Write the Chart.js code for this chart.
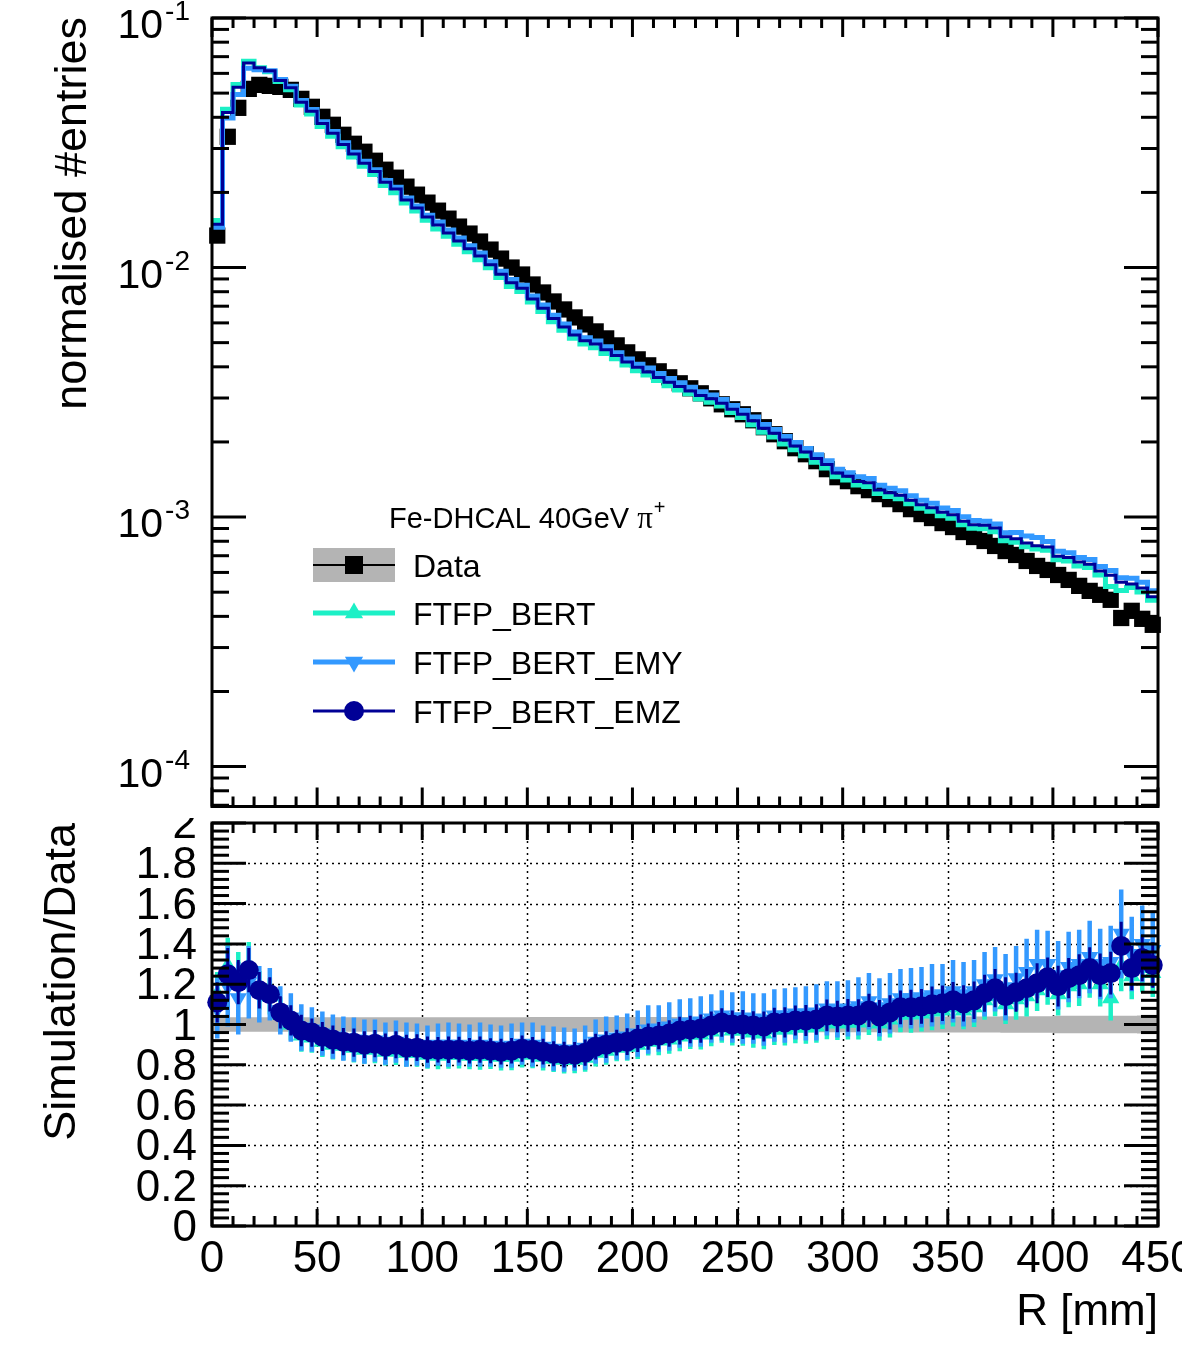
<!DOCTYPE html>
<html><head><meta charset="utf-8">
<script src="https://cdn.jsdelivr.net/npm/chart.js@4.4.0/dist/chart.umd.min.js"></script>
<style>
html,body{margin:0;padding:0;background:#fff;}
#wrap{position:relative;width:1182px;height:1363px;overflow:hidden;background:#fff;}
#c1{position:absolute;left:0;top:0;z-index:2;background:#fff;}
#c2{position:absolute;left:0;top:812px;z-index:1;background:#fff;}
</style></head><body>
<div id="wrap">
<canvas id="c1" width="1182" height="818"></canvas>
<canvas id="c2" width="1182" height="551"></canvas>
</div>
<script>
// ---------------- data ----------------
const binEdges = Array.from({length: 91}, (_, i) => i * 5);           // R bins [mm]
const xTickLabels = ['0','50','100','150','200','250','300','350','400','450'];
const ratioTickLabels = ['0','0.2','0.4','0.6','0.8','1','1.2','1.4','1.6','1.8','2'];
const logTickExps = [-1, -2, -3, -4];

const dataNorm = [0.01343,0.03342,0.04365,0.05200,0.05395,0.05346,0.05297,0.05152,0.04742,0.04406,
0.04018,0.03733,0.03404,0.03133,0.02911,0.02679,0.02466,0.02291,0.02109,0.01959,
0.01820,0.01690,0.01570,0.01459,0.01368,0.01271,0.01180,0.01086,0.01000,0.009376,
0.008551,0.007943,0.007311,0.006792,0.006310,0.005916,0.005546,0.005200,0.004875,0.004571,
0.004285,0.004055,0.003837,0.003631,0.003436,0.003281,0.003133,0.002992,0.002831,0.002704,
0.002582,0.002443,0.002291,0.002148,0.002014,0.001888,0.001786,0.001675,0.001556,0.001445,
0.001393,0.001330,0.001282,0.001236,0.001180,0.001127,0.001076,0.001028,0.000991,0.000946,
0.000912,0.000871,0.000832,0.000802,0.000766,0.000731,0.000705,0.000667,0.000637,0.000614,
0.000586,0.000560,0.000530,0.000506,0.000488,0.000466,0.000394,0.000421,0.000391,0.000370];

const ftfpBertEMZ = [0.01491,0.04178,0.05282,0.06604,0.06312,0.06148,0.05615,0.05255,0.04600,0.04230,
0.03777,0.03453,0.03115,0.02851,0.02620,0.02424,0.02195,0.02062,0.01866,0.01734,
0.01593,0.01479,0.01374,0.01277,0.01190,0.01112,0.01027,0.009394,0.008700,0.008251,
0.007482,0.006871,0.006251,0.005773,0.005364,0.005088,0.004936,0.004680,0.004436,0.004182,
0.003985,0.003812,0.003626,0.003468,0.003333,0.003199,0.003070,0.002977,0.002859,0.002704,
0.002582,0.002431,0.002268,0.002169,0.002034,0.001926,0.001822,0.001717,0.001626,0.001503,
0.001456,0.001390,0.001372,0.001285,0.001251,0.001223,0.001167,0.001121,0.001090,0.001045,
0.001021,0.0009625,0.0009318,0.0009263,0.0009039,0.0008333,0.0008178,0.0007871,0.0007676,0.0007583,
0.0006973,0.0006888,0.0006599,0.0006477,0.0006076,0.0005848,0.0005477,0.0005389,0.0005200,0.0004792];

const ftfpBert = [0.01544,0.04311,0.05413,0.06708,0.06312,0.06094,0.05562,0.05152,0.04481,0.04120,
0.03676,0.03360,0.03047,0.02773,0.02547,0.02358,0.02133,0.01993,0.01814,0.01685,
0.01547,0.01428,0.01335,0.01240,0.01156,0.01074,0.009971,0.009122,0.008400,0.008016,
0.007268,0.006672,0.006068,0.005603,0.005206,0.004940,0.004770,0.004524,0.004314,0.004068,
0.003857,0.003710,0.003530,0.003359,0.003230,0.003117,0.002976,0.002887,0.002789,0.002623,
0.002505,0.002345,0.002188,0.002094,0.001964,0.001860,0.001759,0.001658,0.001572,0.001452,
0.001407,0.001343,0.001327,0.001242,0.001210,0.001183,0.001130,0.001085,0.001055,0.001012,
0.0009895,0.0009320,0.0009027,0.0008982,0.0008732,0.0008041,0.0007931,0.0007604,0.0007453,0.0007368,
0.0006739,0.0006664,0.0006360,0.0006274,0.0005856,0.0005266,0.0005083,0.0005220,0.0005005,0.0004644];

const ftfpBertEMY = [0.01450,0.03977,0.04932,0.06292,0.06204,0.06148,0.05668,0.05332,0.04671,0.04296,
0.03837,0.03509,0.03166,0.02898,0.02664,0.02465,0.02232,0.02096,0.01898,0.01763,
0.01620,0.01521,0.01413,0.01313,0.01224,0.01144,0.01056,0.009665,0.008950,0.008485,
0.007696,0.007069,0.006434,0.005943,0.005521,0.005236,0.005075,0.004810,0.004558,0.004297,
0.004092,0.003954,0.003760,0.003595,0.003453,0.003314,0.003180,0.003082,0.002958,0.002799,
0.002672,0.002516,0.002348,0.002245,0.002105,0.001992,0.001884,0.001776,0.001680,0.001553,
0.001504,0.001450,0.001429,0.001341,0.001304,0.001274,0.001216,0.001167,0.001135,0.001088,
0.001062,0.001002,0.0009693,0.0009624,0.0009384,0.0008662,0.0008672,0.0008404,0.0008281,0.0007982,
0.0007296,0.0007196,0.0006890,0.0006755,0.0006344,0.0006105,0.0005713,0.0005684,0.0005474,0.0005069];

const ratioEMZ = [1.11,1.25,1.21,1.27,1.17,1.15,1.06,1.02,0.97,0.96,
0.94,0.925,0.915,0.91,0.90,0.905,0.89,0.90,0.885,0.885,
0.875,0.875,0.875,0.875,0.87,0.875,0.87,0.865,0.87,0.88,
0.875,0.865,0.855,0.85,0.85,0.86,0.89,0.90,0.91,0.915,
0.93,0.94,0.945,0.955,0.97,0.975,0.98,0.995,1.01,1.00,
1.00,0.995,0.99,1.01,1.01,1.02,1.02,1.025,1.045,1.04,
1.045,1.045,1.07,1.04,1.06,1.085,1.085,1.09,1.10,1.105,
1.12,1.105,1.12,1.155,1.18,1.14,1.16,1.18,1.205,1.235,
1.19,1.23,1.245,1.28,1.245,1.255,1.39,1.28,1.33,1.295];

const ratioBert = [1.15,1.29,1.24,1.29,1.17,1.14,1.05,1.00,0.945,0.935,
0.915,0.90,0.895,0.885,0.875,0.88,0.865,0.87,0.86,0.86,
0.85,0.845,0.85,0.85,0.845,0.845,0.845,0.84,0.84,0.855,
0.85,0.84,0.83,0.825,0.825,0.835,0.86,0.87,0.885,0.89,
0.90,0.915,0.92,0.925,0.94,0.95,0.95,0.965,0.985,0.97,
0.97,0.96,0.955,0.975,0.975,0.985,0.985,0.99,1.01,1.005,
1.01,1.01,1.035,1.005,1.025,1.05,1.05,1.055,1.065,1.07,
1.085,1.07,1.085,1.12,1.14,1.10,1.125,1.14,1.17,1.20,
1.15,1.19,1.20,1.24,1.20,1.13,1.29,1.24,1.28,1.255];

const ratioEMY = [1.08,1.19,1.13,1.21,1.15,1.15,1.07,1.035,0.985,0.975,
0.955,0.94,0.93,0.925,0.915,0.92,0.905,0.915,0.90,0.90,
0.89,0.90,0.90,0.90,0.895,0.90,0.895,0.89,0.895,0.905,
0.90,0.89,0.88,0.875,0.875,0.885,0.915,0.925,0.935,0.94,
0.955,0.975,0.98,0.99,1.005,1.01,1.015,1.03,1.045,1.035,
1.035,1.03,1.025,1.045,1.045,1.055,1.055,1.06,1.08,1.075,
1.08,1.09,1.115,1.085,1.105,1.13,1.13,1.135,1.145,1.15,
1.165,1.15,1.165,1.20,1.225,1.185,1.23,1.26,1.30,1.30,
1.245,1.285,1.30,1.335,1.30,1.31,1.45,1.35,1.40,1.37];

const errEMZ = [0.10,0.13,0.11,0.11,0.09,0.085,0.08,0.075,0.078,0.07,
0.072,0.07,0.068,0.07,0.066,0.068,0.065,0.067,0.064,0.066,
0.065,0.063,0.066,0.064,0.063,0.065,0.062,0.064,0.063,0.065,
0.063,0.064,0.062,0.064,0.063,0.065,0.064,0.066,0.064,0.066,
0.067,0.065,0.068,0.066,0.069,0.068,0.07,0.069,0.071,0.07,
0.072,0.071,0.074,0.073,0.075,0.074,0.077,0.076,0.079,0.078,
0.081,0.08,0.083,0.082,0.085,0.084,0.087,0.086,0.089,0.088,
0.091,0.09,0.093,0.092,0.095,0.094,0.097,0.096,0.099,0.098,
0.101,0.10,0.104,0.103,0.107,0.106,0.12,0.11,0.115,0.113];

const errBert = [0.11,0.14,0.12,0.12,0.095,0.09,0.085,0.08,0.08,0.075,
0.076,0.074,0.072,0.074,0.07,0.072,0.069,0.071,0.068,0.07,
0.069,0.067,0.07,0.068,0.067,0.069,0.066,0.068,0.067,0.069,
0.067,0.068,0.066,0.068,0.067,0.069,0.068,0.07,0.068,0.07,
0.071,0.069,0.072,0.07,0.073,0.072,0.074,0.073,0.075,0.074,
0.076,0.075,0.078,0.077,0.079,0.078,0.081,0.08,0.083,0.082,
0.085,0.084,0.087,0.086,0.089,0.088,0.091,0.09,0.093,0.092,
0.095,0.094,0.097,0.096,0.099,0.098,0.101,0.10,0.103,0.102,
0.105,0.104,0.108,0.107,0.111,0.11,0.125,0.115,0.12,0.118];

const errEMY = [0.15,0.20,0.18,0.18,0.14,0.13,0.12,0.12,0.115,0.11,
0.11,0.11,0.11,0.11,0.11,0.105,0.105,0.105,0.11,0.105,
0.105,0.105,0.11,0.105,0.105,0.11,0.105,0.105,0.11,0.105,
0.11,0.105,0.11,0.11,0.105,0.11,0.11,0.115,0.11,0.115,
0.115,0.12,0.115,0.12,0.12,0.12,0.125,0.12,0.125,0.125,
0.13,0.125,0.13,0.13,0.135,0.13,0.135,0.14,0.135,0.14,
0.14,0.145,0.14,0.145,0.15,0.145,0.15,0.15,0.155,0.15,
0.155,0.16,0.155,0.16,0.16,0.165,0.16,0.165,0.17,0.165,
0.17,0.175,0.17,0.18,0.175,0.18,0.22,0.185,0.19,0.185];

const dataBand = [0.036,0.036,0.036,0.036,0.036,0.036,0.036,0.036,0.036,0.036,
0.036,0.036,0.036,0.036,0.036,0.036,0.036,0.036,0.036,0.036,
0.036,0.036,0.036,0.036,0.036,0.036,0.036,0.036,0.036,0.036,
0.037,0.037,0.037,0.037,0.037,0.037,0.037,0.037,0.037,0.037,
0.037,0.037,0.037,0.037,0.037,0.037,0.037,0.037,0.037,0.037,
0.038,0.038,0.038,0.038,0.038,0.038,0.038,0.038,0.038,0.038,
0.038,0.038,0.038,0.038,0.038,0.040,0.040,0.040,0.040,0.040,
0.040,0.040,0.040,0.040,0.040,0.041,0.041,0.041,0.041,0.041,
0.043,0.043,0.043,0.043,0.043,0.044,0.044,0.044,0.045,0.045];

const legendLabels = ['Data','FTFP_BERT','FTFP_BERT_EMY','FTFP_BERT_EMZ'];
const legendHeader = 'Fe-DHCAL 40GeV ';
const legendParticle = '\u03c0';

// ---------------- styles ----------------
const CYAN = '#1cf0c6', BLUE = '#3399ff', NAVY = '#000096', GREY = '#b4b4b4';
const FONT = "'Liberation Sans', Arial, Helvetica, sans-serif";
const SERIF = "'Liberation Serif', 'DejaVu Serif', serif";

// ---------------- helpers ----------------
const centers = binEdges.slice(0, -1).map((e, i) => (e + binEdges[i + 1]) / 2);
function histPts(vals) {
  const pts = [];
  vals.forEach((v, i) => { pts.push({x: binEdges[i], y: v}); pts.push({x: binEdges[i + 1], y: v}); });
  return pts;
}
function markerPts(vals) { return vals.map((v, i) => ({x: centers[i], y: v})); }
function errSegs(vals, errs) {
  const pts = [];
  vals.forEach((v, i) => {
    pts.push({x: centers[i], y: v - errs[i]});
    pts.push({x: centers[i], y: v + errs[i]});
    pts.push({x: centers[i], y: null});
  });
  return pts;
}
function line(ctx, x1, y1, x2, y2) { ctx.beginPath(); ctx.moveTo(x1, y1); ctx.lineTo(x2, y2); ctx.stroke(); }
function triangle(ctx, x, y, r, down) {
  const s = down ? -1 : 1;
  ctx.beginPath();
  ctx.moveTo(x, y - s * r);
  ctx.lineTo(x + r * 0.866, y + s * r * 0.5);
  ctx.lineTo(x - r * 0.866, y + s * r * 0.5);
  ctx.closePath(); ctx.fill();
}

// ---------------- top panel ----------------
const topDecor = {
  id: 'topDecor',
  afterDatasetsDraw(chart) {
    const {ctx, chartArea: a} = chart;
    const xs = chart.scales.x, ys = chart.scales.y;
    ctx.save();
    ctx.strokeStyle = '#000'; ctx.lineWidth = 3; ctx.lineCap = 'butt';
    for (let v = 0; v <= 450; v += 10) {
      const px = xs.getPixelForValue(v), L = v % 50 === 0 ? 19 : 10;
      line(ctx, px, a.bottom, px, a.bottom - L);
      line(ctx, px, a.top, px, a.top + L);
    }
    for (let e = -5; e <= -1; e++) {
      for (let m = 1; m <= 9; m++) {
        const v = m * Math.pow(10, e);
        if (v < ys.min * 0.999 || v > ys.max * 1.001) continue;
        const py = ys.getPixelForValue(v), L = m === 1 ? 34 : 17;
        line(ctx, a.left, py, a.left + L, py);
        line(ctx, a.right, py, a.right - L, py);
      }
    }
    ctx.strokeRect(a.left, a.top, a.right - a.left, a.bottom - a.top);
    // tick labels
    ctx.fillStyle = '#000'; ctx.textBaseline = 'alphabetic'; ctx.textAlign = 'left';
    logTickExps.forEach(e => {
      const py = ys.getPixelForValue(Math.pow(10, e));
      ctx.font = `41px ${FONT}`;
      const w1 = ctx.measureText('10').width;
      ctx.font = `28px ${FONT}`;
      const sup = String(e);
      const w2 = ctx.measureText(sup).width;
      const x0 = 190 - w1 - w2 - 2;
      ctx.font = `41px ${FONT}`;
      ctx.fillText('10', x0, py + 20);
      ctx.font = `28px ${FONT}`;
      ctx.fillText(sup, x0 + w1 + 2, py + 2);
    });
    // y title
    ctx.save();
    ctx.translate(86, a.top - 1);
    ctx.rotate(-Math.PI / 2);
    ctx.font = `45px ${FONT}`; ctx.textAlign = 'right'; ctx.textBaseline = 'alphabetic';
    ctx.fillText('normalised #entries', 0, 0);
    ctx.restore();
    // legend
    ctx.textAlign = 'left'; ctx.textBaseline = 'alphabetic';
    ctx.font = `29px ${FONT}`;
    ctx.fillText(legendHeader, 389, 528);
    let hw = ctx.measureText(legendHeader).width;
    ctx.font = `31px ${SERIF}`;
    ctx.fillText(legendParticle, 389 + hw, 528);
    hw += ctx.measureText(legendParticle).width;
    ctx.font = `20px ${FONT}`;
    ctx.fillText('+', 389 + hw + 1, 514);
    const lx0 = 313, lx1 = 395, lxm = 354;
    const rows = [565, 613, 662, 711];
    // Data
    ctx.fillStyle = GREY; ctx.fillRect(lx0, rows[0] - 17, lx1 - lx0, 34);
    ctx.strokeStyle = '#000'; ctx.lineWidth = 2; line(ctx, lx0, rows[0], lx1, rows[0]);
    ctx.fillStyle = '#000'; ctx.fillRect(lxm - 9, rows[0] - 9, 18, 18);
    // BERT
    ctx.strokeStyle = CYAN; ctx.lineWidth = 5; line(ctx, lx0, rows[1], lx1, rows[1]);
    ctx.fillStyle = CYAN; triangle(ctx, lxm, rows[1], 10.5, false);
    // EMY
    ctx.strokeStyle = BLUE; ctx.lineWidth = 5; line(ctx, lx0, rows[2], lx1, rows[2]);
    ctx.fillStyle = BLUE; triangle(ctx, lxm, rows[2], 10.5, true);
    // EMZ
    ctx.strokeStyle = NAVY; ctx.lineWidth = 3; line(ctx, lx0, rows[3], lx1, rows[3]);
    ctx.fillStyle = NAVY; ctx.beginPath(); ctx.arc(lxm, rows[3], 10, 0, Math.PI * 2); ctx.fill();
    ctx.fillStyle = '#000'; ctx.font = `32px ${FONT}`;
    legendLabels.forEach((t, i) => ctx.fillText(t, 413, rows[i] + 12));
    ctx.restore();
  }
};

new Chart(document.getElementById('c1'), {
  type: 'line',
  data: {
    datasets: [
      {label: legendLabels[3], data: histPts(ftfpBertEMZ), borderColor: NAVY, borderWidth: 3, pointRadius: 0, order: 1},
      {label: legendLabels[2], data: histPts(ftfpBertEMY), borderColor: BLUE, borderWidth: 5, pointRadius: 0, order: 2},
      {label: legendLabels[1], data: histPts(ftfpBert), borderColor: CYAN, borderWidth: 5, pointRadius: 0, order: 3},
      {label: legendLabels[0], data: markerPts(dataNorm), showLine: false, pointStyle: 'rect', pointRadius: 11.5,
       pointBackgroundColor: '#000', pointBorderWidth: 0, borderColor: '#000', order: 4, clip: false}
    ]
  },
  options: {
    responsive: false, animation: false, devicePixelRatio: 1,
    layout: {padding: {left: 212, right: 24, top: 18, bottom: 10}},
    elements: {line: {tension: 0, borderJoinStyle: 'miter', borderCapStyle: 'butt'}},
    plugins: {legend: {display: false}, tooltip: {enabled: false}},
    scales: {
      x: {type: 'linear', min: 0, max: 450, display: false},
      y: {type: 'logarithmic', min: 6.92e-5, max: 0.1, display: false}
    }
  },
  plugins: [topDecor]
});

// ---------------- ratio panel ----------------
const ratioDecor = {
  id: 'ratioDecor',
  beforeDatasetsDraw(chart) {
    const {ctx, chartArea: a} = chart;
    const xs = chart.scales.x, ys = chart.scales.y;
    ctx.save();
    ctx.strokeStyle = '#000'; ctx.lineWidth = 1.5; ctx.setLineDash([2, 4]);
    for (let v = 50; v < 450; v += 50) { const px = Math.round(xs.getPixelForValue(v)) + 0.5; line(ctx, px, a.top, px, a.bottom); }
    for (let k = 1; k < 10; k++) { const py = Math.round(ys.getPixelForValue(k * 0.2)) + 0.5; line(ctx, a.left, py, a.right, py); }
    ctx.restore();
  },
  afterDatasetsDraw(chart) {
    const {ctx, chartArea: a} = chart;
    const xs = chart.scales.x, ys = chart.scales.y;
    ctx.save();
    ctx.strokeStyle = '#000'; ctx.lineWidth = 3; ctx.lineCap = 'butt';
    for (let v = 0; v <= 450; v += 10) {
      const px = xs.getPixelForValue(v), L = v % 50 === 0 ? 17 : 10;
      line(ctx, px, a.bottom, px, a.bottom - L);
      line(ctx, px, a.top, px, a.top + L);
    }
    for (let k = 0; k <= 50; k++) {
      const py = ys.getPixelForValue(k * 0.04), L = k % 5 === 0 ? 34 : 17;
      line(ctx, a.left, py, a.left + L, py);
      line(ctx, a.right, py, a.right - L, py);
    }
    ctx.strokeRect(a.left, a.top, a.right - a.left, a.bottom - a.top);
    ctx.fillStyle = '#000'; ctx.font = `44px ${FONT}`; ctx.textBaseline = 'alphabetic';
    ctx.textAlign = 'center';
    xTickLabels.forEach(t => ctx.fillText(t, xs.getPixelForValue(Number(t)), a.bottom + 46));
    ctx.textAlign = 'right';
    ratioTickLabels.forEach(t => ctx.fillText(t, 197, ys.getPixelForValue(Number(t)) + 15));
    ctx.fillText('R [mm]', a.right, 513);
    ctx.save();
    ctx.translate(75, a.top);
    ctx.rotate(-Math.PI / 2);
    ctx.font = `45px ${FONT}`; ctx.textAlign = 'right';
    ctx.fillText('Simulation/Data', 0, 0);
    ctx.restore();
    ctx.restore();
  }
};

new Chart(document.getElementById('c2'), {
  type: 'line',
  data: {
    datasets: [
      {label: legendLabels[3], data: markerPts(ratioEMZ), showLine: false, pointStyle: 'circle', pointRadius: 10,
       pointBackgroundColor: NAVY, borderColor: NAVY, pointBorderWidth: 0, order: 1, clip: false},
      {label: legendLabels[3] + ' err', data: errSegs(ratioEMZ, errEMZ), borderColor: NAVY, borderWidth: 3, pointRadius: 0, order: 2},
      {label: legendLabels[2], data: markerPts(ratioEMY), showLine: false, pointStyle: 'triangle', pointRotation: 180, pointRadius: 10,
       pointBackgroundColor: BLUE, borderColor: BLUE, pointBorderWidth: 0, order: 3, clip: false},
      {label: legendLabels[2] + ' err', data: errSegs(ratioEMY, errEMY), borderColor: BLUE, borderWidth: 4.5, pointRadius: 0, order: 4},
      {label: legendLabels[1], data: markerPts(ratioBert), showLine: false, pointStyle: 'triangle', pointRadius: 10,
       pointBackgroundColor: CYAN, borderColor: CYAN, pointBorderWidth: 0, order: 5, clip: false},
      {label: legendLabels[1] + ' err', data: errSegs(ratioBert, errBert), borderColor: CYAN, borderWidth: 4.5, pointRadius: 0, order: 6},
      {label: 'band lo', data: histPts(dataBand.map(e => 1 - e)), borderWidth: 0, borderColor: 'rgba(0,0,0,0)', pointRadius: 0, fill: false, order: 7},
      {label: 'band hi', data: histPts(dataBand.map(e => 1 + e)), borderWidth: 0, borderColor: 'rgba(0,0,0,0)', pointRadius: 0,
       fill: '-1', backgroundColor: GREY, order: 8}
    ]
  },
  options: {
    responsive: false, animation: false, devicePixelRatio: 1,
    layout: {padding: {left: 212, right: 24, top: 11, bottom: 137}},
    elements: {line: {tension: 0, borderCapStyle: 'butt'}},
    plugins: {legend: {display: false}, tooltip: {enabled: false}},
    scales: {
      x: {type: 'linear', min: 0, max: 450, display: false},
      y: {type: 'linear', min: 0, max: 2, display: false}
    }
  },
  plugins: [ratioDecor]
});
</script>
</body></html>
